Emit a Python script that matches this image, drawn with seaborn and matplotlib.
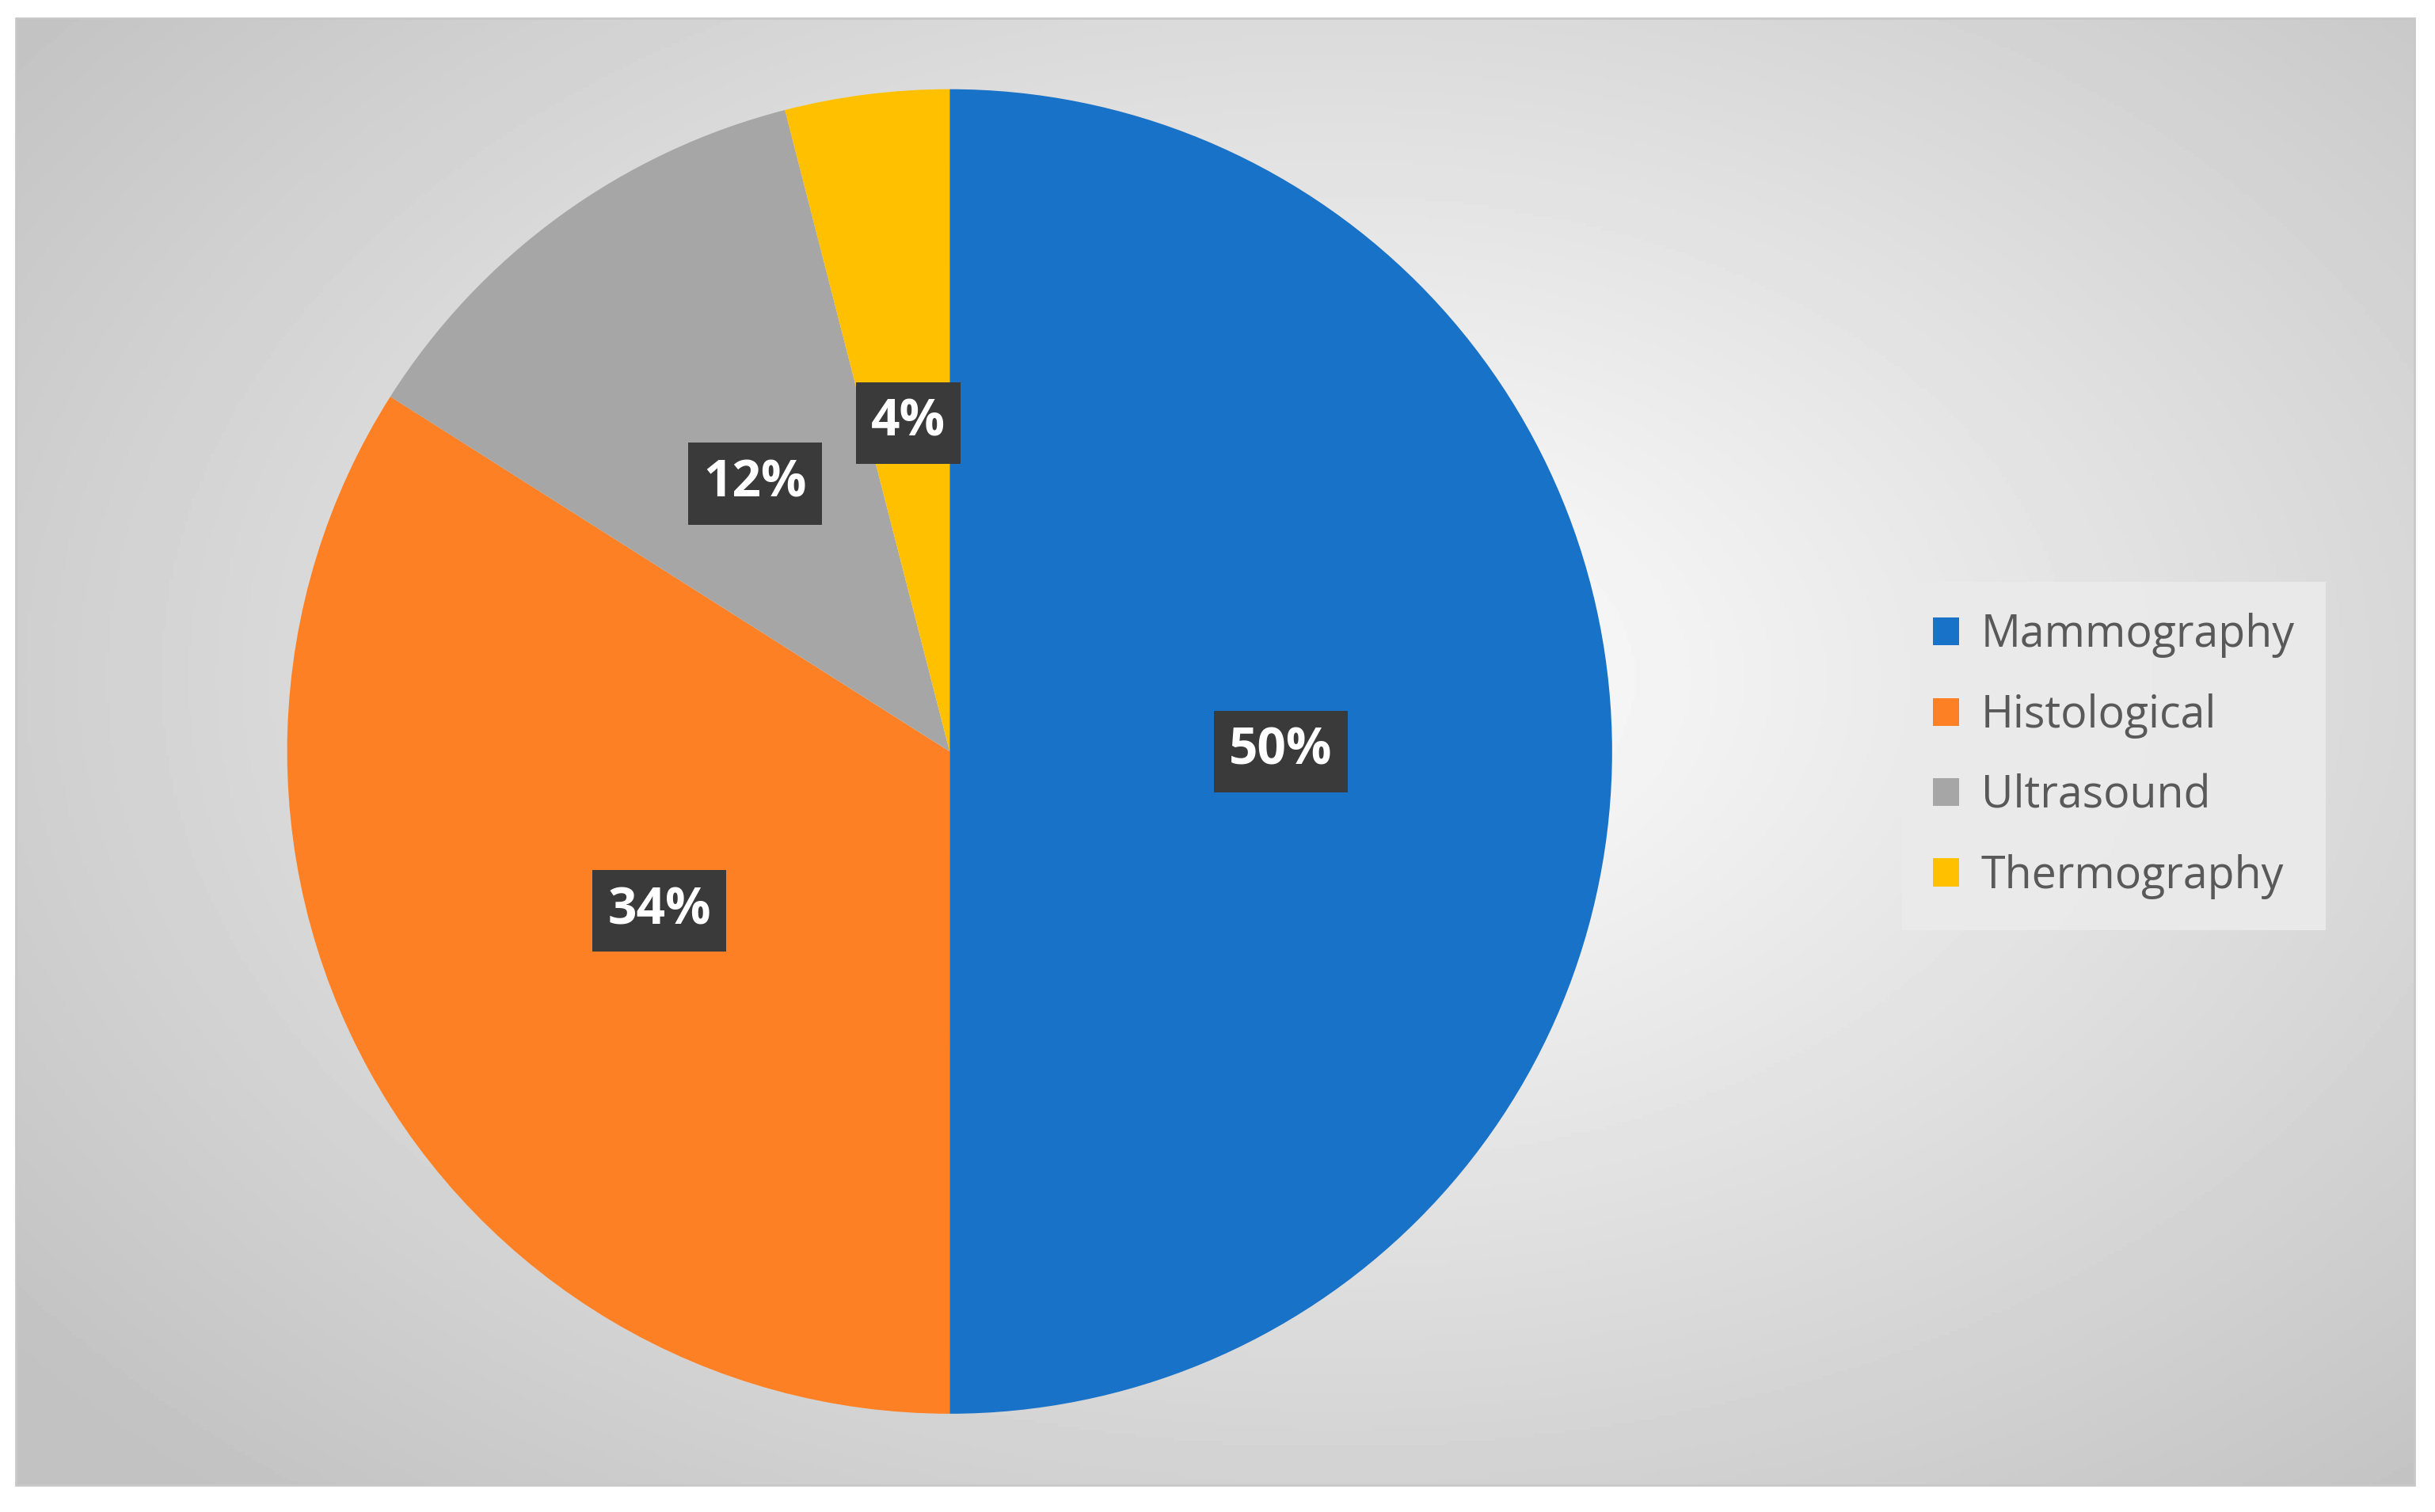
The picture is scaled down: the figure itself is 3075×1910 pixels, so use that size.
import numpy as np
import seaborn as sns
import matplotlib.pyplot as plt
from matplotlib.patches import Rectangle

sns.set_theme(style='white')
plt.rcParams['font.family'] = ['Open Sans', 'DejaVu Sans']

methods = ['Mammography', 'Histological', 'Ultrasound', 'Thermography']
shares = [50, 34, 12, 4]
colors = sns.color_palette(['#1772C8', '#FD8025', '#A6A6A6', '#FFC000'])

fig = plt.figure(figsize=(30.75, 19.1), dpi=100)

# radial gradient background inside the chart border
bg = fig.add_axes([0, 0, 1, 1])
bg.set_axis_off()
bg.set_xlim(0, 1)
bg.set_ylim(0, 1)
yy, xx = np.mgrid[0:1:400j, 0:1:640j]
r = np.sqrt(((xx - 0.55) / 0.7) ** 2 + ((yy - 0.55) / 0.75) ** 2)
shade = 1 - 0.24 * np.clip(r, 0, 1)
bg.imshow(shade, cmap='gray', vmin=0, vmax=1,
          extent=[0.0065, 0.9915, 0.018, 0.988], aspect='auto', origin='lower')
bg.add_patch(Rectangle((0.0065, 0.018), 0.985, 0.97, fill=False,
                       edgecolor='#C8C8C8', lw=2))
bg.set_xlim(0, 1)
bg.set_ylim(0, 1)

h = 0.876
w = h * 1910 / 3075
ax = fig.add_axes([0.39 - w / 2, 0.503 - h / 2, w, h])
wedges, texts, autotexts = ax.pie(
    shares, colors=colors, startangle=90, counterclock=False,
    autopct='%d%%', pctdistance=0.5,
    wedgeprops=dict(linewidth=0),
    textprops=dict(color='white', fontsize=46, fontweight='bold'))
for t in autotexts:
    t.set_bbox(dict(facecolor='#3A3A3A', edgecolor='none',
                    boxstyle='square,pad=0.3'))
ax.set_xlim(-1, 1)
ax.set_ylim(-1, 1)
ax.set_aspect('equal')

leg = fig.legend(wedges, methods, loc='center left',
                 bbox_to_anchor=(0.772, 0.50), frameon=True, fontsize=40,
                 handlelength=0.6, handleheight=0.6, labelspacing=0.8,
                 borderpad=0.7, handletextpad=0.5, fancybox=False)
leg.get_frame().set_facecolor('#EBEBEB')
leg.get_frame().set_edgecolor('none')
leg.get_frame().set_alpha(0.9)
for t in leg.get_texts():
    t.set_color('#595959')

fig.savefig('out.png', dpi=100)
